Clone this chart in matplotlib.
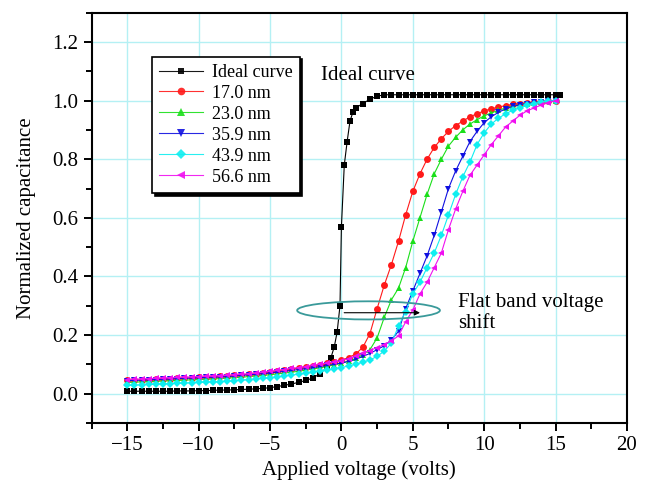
import numpy as np
import matplotlib
matplotlib.use("Agg")
import matplotlib.pyplot as plt
from matplotlib.patches import Ellipse

plt.rcParams["font.family"] = ["Liberation Serif", "DejaVu Serif"]
plt.rcParams["mathtext.fontset"] = "stix"

# applied voltage grid for the measured curves (0.5 V steps)
volts = np.arange(-15, 15.01, 0.5)

# ideal curve (denser around 0 V)
ideal_v = [-15, -14.5, -14, -13.5, -13, -12.5, -12, -11.5, -11, -10.5, -10, -9.5, -9, -8.5,
           -8, -7.5, -7, -6.5, -6, -5.5, -5, -4.5, -4, -3.5, -3, -2.5, -2, -1.5, -1, -0.75,
           -0.5, -0.3, -0.1, 0.0, 0.2, 0.4, 0.6, 0.8, 1.0, 1.5, 2, 2.5, 3, 3.5, 4, 4.5, 5,
           5.5, 6, 6.5, 7, 7.5, 8, 8.5, 9, 9.5, 10, 10.5, 11, 11.5, 12, 12.5, 13, 13.5, 14,
           14.5, 15, 15.3]
ideal_c = [0.008, 0.008, 0.008, 0.008, 0.008, 0.008, 0.008, 0.009, 0.009, 0.009, 0.010, 0.010,
           0.011, 0.012, 0.012, 0.013, 0.014, 0.015, 0.016, 0.018, 0.020, 0.024, 0.028, 0.033,
           0.038, 0.045, 0.053, 0.068, 0.09, 0.12, 0.16, 0.21, 0.30, 0.57, 0.78, 0.86, 0.93,
           0.96, 0.975, 0.99, 1.005, 1.015, 1.02, 1.02, 1.02, 1.02, 1.02, 1.02, 1.02, 1.02,
           1.02, 1.02, 1.02, 1.02, 1.02, 1.02, 1.02, 1.02, 1.02, 1.02, 1.02, 1.02, 1.02, 1.02,
           1.02, 1.02, 1.02, 1.02]

c_17_0 = [0.045, 0.046, 0.047, 0.048, 0.049, 0.050, 0.051, 0.052, 0.053, 0.054, 0.055, 0.056,
          0.057, 0.059, 0.060, 0.062, 0.064, 0.066, 0.068, 0.071, 0.074, 0.077, 0.080, 0.084,
          0.087, 0.091, 0.095, 0.099, 0.103, 0.108, 0.114, 0.123, 0.135, 0.158, 0.205, 0.29,
          0.37, 0.44, 0.52, 0.61, 0.69, 0.75, 0.80, 0.84, 0.87, 0.895, 0.915, 0.93, 0.945,
          0.955, 0.965, 0.972, 0.978, 0.983, 0.987, 0.99, 0.993, 0.995, 0.997, 0.999, 1.0]
c_23_0 = [0.038, 0.039, 0.040, 0.041, 0.042, 0.043, 0.044, 0.045, 0.046, 0.047, 0.048, 0.049,
          0.050, 0.051, 0.053, 0.054, 0.056, 0.058, 0.060, 0.062, 0.064, 0.067, 0.070, 0.073,
          0.076, 0.080, 0.084, 0.088, 0.093, 0.098, 0.104, 0.111, 0.120, 0.133, 0.150, 0.19,
          0.26, 0.32, 0.36, 0.43, 0.52, 0.60, 0.68, 0.75, 0.80, 0.845, 0.875, 0.90, 0.92,
          0.935, 0.948, 0.958, 0.967, 0.975, 0.981, 0.986, 0.99, 0.993, 0.996, 0.998, 1.0]
c_35_9 = [0.044, 0.045, 0.046, 0.047, 0.048, 0.049, 0.050, 0.051, 0.052, 0.053, 0.054, 0.055,
          0.056, 0.057, 0.058, 0.060, 0.062, 0.064, 0.066, 0.068, 0.070, 0.073, 0.076, 0.079,
          0.082, 0.085, 0.088, 0.092, 0.096, 0.100, 0.104, 0.110, 0.117, 0.127, 0.137, 0.150,
          0.163, 0.183, 0.213, 0.29, 0.35, 0.41, 0.47, 0.54, 0.62, 0.70, 0.76, 0.81, 0.86,
          0.895, 0.925, 0.945, 0.96, 0.972, 0.98, 0.986, 0.99, 0.994, 0.997, 0.999, 1.0]
c_43_9 = [0.028, 0.029, 0.030, 0.031, 0.032, 0.033, 0.034, 0.035, 0.036, 0.037, 0.038, 0.039,
          0.040, 0.041, 0.042, 0.044, 0.046, 0.048, 0.050, 0.052, 0.054, 0.057, 0.060, 0.063,
          0.066, 0.069, 0.073, 0.077, 0.081, 0.085, 0.089, 0.094, 0.100, 0.107, 0.115, 0.127,
          0.145, 0.172, 0.23, 0.28, 0.34, 0.38, 0.43, 0.48, 0.54, 0.61, 0.68, 0.74, 0.79,
          0.85, 0.89, 0.92, 0.94, 0.955, 0.967, 0.976, 0.984, 0.99, 0.995, 0.998, 1.0]
c_56_6 = [0.048, 0.049, 0.050, 0.051, 0.052, 0.053, 0.054, 0.055, 0.056, 0.057, 0.058, 0.059,
          0.060, 0.061, 0.062, 0.064, 0.066, 0.068, 0.070, 0.073, 0.076, 0.079, 0.082, 0.086,
          0.089, 0.092, 0.096, 0.100, 0.104, 0.108, 0.112, 0.119, 0.127, 0.137, 0.147, 0.157,
          0.167, 0.180, 0.197, 0.245, 0.285, 0.34, 0.38, 0.43, 0.48, 0.56, 0.63, 0.69, 0.745,
          0.78, 0.815, 0.85, 0.88, 0.91, 0.93, 0.95, 0.965, 0.975, 0.985, 0.993, 1.0]

series = [
    ("17.0 nm", c_17_0, "#ff1a1a", "o"),
    ("23.0 nm", c_23_0, "#1adf1a", "^"),
    ("35.9 nm", c_35_9, "#1010e0", "v"),
    ("43.9 nm", c_43_9, "#10eef0", "D"),
    ("56.6 nm", c_56_6, "#f010f0", "<"),
]

fig = plt.figure(figsize=(6.45, 4.9), dpi=100)
ax = fig.add_axes([0.142, 0.137, 0.830, 0.837])

ax.plot(ideal_v, ideal_c, color="black", lw=0.8, marker="s", ms=3.8,
        markeredgewidth=0, label="Ideal curve", zorder=3)
for name, vals, col, mk in series:
    ax.plot(volts, vals, color=col, lw=0.8, marker=mk, ms=5 if mk != "D" else 4.2,
            markeredgewidth=0, label=name, zorder=3)

ax.set_xlim(-17.5, 20)
ax.set_ylim(-0.1, 1.3)
ax.set_xticks(np.arange(-15, 20.1, 5))
ax.set_xticks(np.arange(-17.5, 20.1, 2.5), minor=True)
ax.set_yticks(np.arange(0, 1.21, 0.2))
ax.set_yticks(np.arange(-0.1, 1.31, 0.1), minor=True)
ax.yaxis.set_major_formatter(matplotlib.ticker.FormatStrFormatter("%.1f"))
ax.grid(True, which="major", color="#b4f0f4", lw=1.0, zorder=0)
ax.tick_params(which="both", direction="out", width=1.4, labelsize=15,
               top=False, right=False)
ax.tick_params(which="major", length=6)
ax.tick_params(which="minor", length=4)
for sp in ax.spines.values():
    sp.set_linewidth(1.5)

ax.set_xlabel("Applied voltage (volts)", fontsize=15)
ax.set_ylabel("Normalized capacitance", fontsize=15, labelpad=12)

ax.text(-1.4, 1.085, "Ideal curve", fontsize=15, ha="left", va="center")
ax.text(8.2, 0.275, "Flat band voltage\nshift", fontsize=15, ha="left", va="center",
        linespacing=1.2)
ax.add_patch(Ellipse((1.9, 0.284), 10.0, 0.062, fill=False, edgecolor="#3a9a9a",
                     lw=1.3, zorder=4))
ax.annotate("", xy=(5.7, 0.276), xytext=(0.0, 0.276),
            arrowprops=dict(arrowstyle="-|>", color="black", lw=0.8,
                            mutation_scale=8), zorder=5)

leg = ax.legend(loc="upper left", bbox_to_anchor=(0.113, 0.893), borderaxespad=0,
                fontsize=13, frameon=True, fancybox=False, edgecolor="black",
                shadow={"color": "black", "alpha": 1.0}, handlelength=2.4,
                labelspacing=0.22, borderpad=0.4, handletextpad=0.5,
                markerscale=1.1)
leg.get_frame().set_linewidth(1.2)
for h in leg.get_lines():
    h.set_alpha(0.9)

fig.savefig("out.png", dpi=100)
